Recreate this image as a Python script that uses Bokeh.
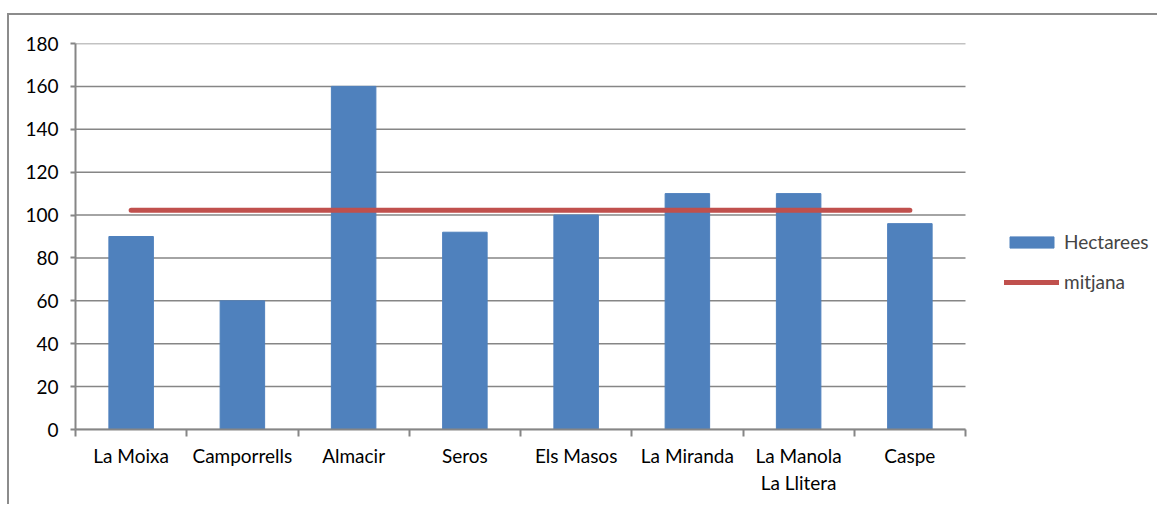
from bokeh.plotting import figure
from bokeh.models import ColumnDataSource, FixedTicker, Legend, LegendItem, Range1d
from bokeh.embed import file_html
from bokeh.resources import INLINE

categories = ["La Moixa", "Camporrells", "Almacir", "Seros", "Els Masos",
              "La Miranda", "La Manola\nLa Llitera", "Caspe"]
hectarees = [90, 60, 160, 92, 100, 110, 110, 96]
mitjana = [102.25, 102.25, 102.25, 102.25, 102.25, 102.25, 102.25, 102.25]
y_ticks = [0, 20, 40, 60, 80, 100, 120, 140, 160, 180]

n = len(categories)
xpos = [i + 0.5 for i in range(n)]
src = ColumnDataSource(dict(x=xpos, h=hectarees, m=mitjana))

FONT = "Lato"
GRAY = "#868686"

# frame extends to the right edge so the legend (drawn inside it) is not clipped;
# the category area occupies 0..n (890 px), the rest is room for the legend
PX_PER_CAT = 890 / n
FRAME_W = 1150 - 66
p = figure(width=1150, height=491, output_backend="svg", toolbar_location=None,
           x_range=Range1d(0, FRAME_W / PX_PER_CAT), y_range=Range1d(0, 180),
           min_border_left=66, min_border_top=28, min_border_bottom=77, min_border_right=0)
p.margin = (13, 0, 0, 7)
p.styles = {"border-top": "2px solid #8c8c8c", "border-left": "2px solid #8c8c8c"}
p.outline_line_color = None
p.background_fill_color = "white"
p.border_fill_color = "white"

# horizontal grid lines limited to the category area
p.segment(x0=[0] * len(y_ticks), x1=[n] * len(y_ticks), y0=y_ticks, y1=y_ticks,
          line_color=GRAY, line_width=1.5)

bars = p.vbar(x="x", top="h", width=0.4, source=src, fill_color="#4F81BD",
              line_color="#4F81BD")
line = p.line(x="x", y="m", source=src, line_color="#C0504D", line_width=5,
              line_cap="round")

# x axis
p.xaxis.bounds = (0, n)
p.xaxis.ticker = FixedTicker(ticks=xpos, minor_ticks=list(range(n + 1)))
p.xaxis.major_label_overrides = {x: c for x, c in zip(xpos, categories)}
p.xaxis.major_tick_out = 0
p.xaxis.major_tick_in = 0
p.xaxis.minor_tick_out = 7
p.xaxis.minor_tick_in = 0
p.xaxis.minor_tick_line_color = GRAY
p.xaxis.minor_tick_line_width = 2
p.xaxis.axis_line_color = GRAY
p.xaxis.axis_line_width = 2
p.xaxis.major_label_text_font = FONT
p.xaxis.major_label_text_font_size = "19px"
p.xaxis.major_label_text_color = "black"
p.xaxis.major_label_standoff = 7
p.xgrid.grid_line_color = None

# y axis
p.yaxis.ticker = FixedTicker(ticks=y_ticks)
p.yaxis.major_tick_out = 5
p.yaxis.major_tick_in = 0
p.yaxis.minor_tick_line_color = None
p.yaxis.major_tick_line_color = GRAY
p.yaxis.major_tick_line_width = 2
p.yaxis.axis_line_color = GRAY
p.yaxis.axis_line_width = 2
p.yaxis.major_label_text_font = FONT
p.yaxis.major_label_text_font_size = "19px"
p.yaxis.major_label_text_color = "black"
p.yaxis.major_label_standoff = 12
p.ygrid.grid_line_color = None

legend = Legend(items=[LegendItem(label="Hectarees", renderers=[bars]),
                       LegendItem(label="mitjana", renderers=[line])],
                location=(929, 136), orientation="vertical",
                label_text_font=FONT, label_text_font_size="19px",
                glyph_width=55, glyph_height=14, spacing=17,
                label_standoff=5, border_line_color=None,
                background_fill_alpha=0, padding=0, margin=0)
p.add_layout(legend, "center")

open("out.html", "w").write(file_html(p, INLINE))
